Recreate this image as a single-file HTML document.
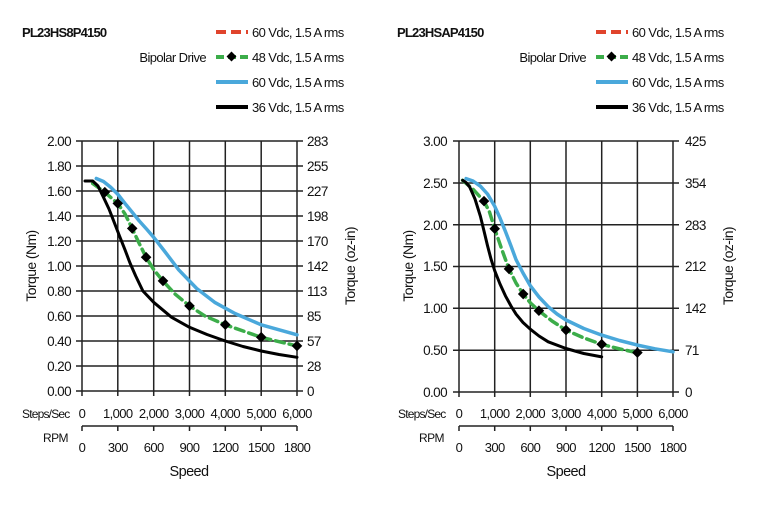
<!DOCTYPE html>
<html><head><meta charset="utf-8"><style>
body{margin:0;background:#fff}
text{font-family:"Liberation Sans",sans-serif;fill:#111;letter-spacing:-0.6px}
</style></head><body>
<svg width="762" height="500" viewBox="0 0 762 500" xmlns="http://www.w3.org/2000/svg">
<rect width="762" height="500" fill="#fff"/>

<!-- LEFT CHART -->
<text x="22" y="37" font-size="13" font-weight="bold" style="letter-spacing:-0.8px">PL23HS8P4150</text>
<text x="206" y="62" font-size="13" text-anchor="end">Bipolar Drive</text>
<line x1="216" y1="32" x2="248" y2="32" stroke="#e0442c" stroke-width="4" stroke-dasharray="10,5"/>
<line x1="216" y1="57" x2="248" y2="57" stroke="#3cad4a" stroke-width="4" stroke-dasharray="8,4"/>
<rect x="228" y="53" width="7" height="7" transform="rotate(45 231.5 56.5)" fill="#000"/>
<line x1="216" y1="82" x2="248" y2="82" stroke="#4aa8db" stroke-width="4"/>
<line x1="216" y1="107" x2="248" y2="107" stroke="#000" stroke-width="4"/>
<g font-size="13"><text x="252" y="37">60 Vdc, 1.5 A rms</text><text x="252" y="62">48 Vdc, 1.5 A rms</text><text x="252" y="87">60 Vdc, 1.5 A rms</text><text x="252" y="112">36 Vdc, 1.5 A rms</text></g>

<g stroke="#222" stroke-width="1.5">
<line x1="76" y1="141" x2="303" y2="141"/><line x1="76" y1="166" x2="303" y2="166"/><line x1="76" y1="191" x2="303" y2="191"/><line x1="76" y1="216" x2="303" y2="216"/><line x1="76" y1="241" x2="303" y2="241"/><line x1="76" y1="266" x2="303" y2="266"/><line x1="76" y1="291" x2="303" y2="291"/><line x1="76" y1="316" x2="303" y2="316"/><line x1="76" y1="341" x2="303" y2="341"/><line x1="76" y1="366" x2="303" y2="366"/><line x1="76" y1="391" x2="303" y2="391"/>
<line x1="82" y1="141" x2="82" y2="396"/><line x1="117.8" y1="141" x2="117.8" y2="396"/><line x1="153.7" y1="141" x2="153.7" y2="396"/><line x1="189.5" y1="141" x2="189.5" y2="396"/><line x1="225.3" y1="141" x2="225.3" y2="396"/><line x1="261.2" y1="141" x2="261.2" y2="396"/><line x1="297" y1="141" x2="297" y2="396"/>
<line x1="82" y1="426" x2="297" y2="426"/>
<line x1="82" y1="426" x2="82" y2="431"/><line x1="117.8" y1="426" x2="117.8" y2="431"/><line x1="153.7" y1="426" x2="153.7" y2="431"/><line x1="189.5" y1="426" x2="189.5" y2="431"/><line x1="225.3" y1="426" x2="225.3" y2="431"/><line x1="261.2" y1="426" x2="261.2" y2="431"/><line x1="297" y1="426" x2="297" y2="431"/>
</g>
<g font-size="13.5" text-anchor="end"><text x="71" y="146">2.00</text><text x="71" y="171">1.80</text><text x="71" y="196">1.60</text><text x="71" y="221">1.40</text><text x="71" y="246">1.20</text><text x="71" y="271">1.00</text><text x="71" y="296">0.80</text><text x="71" y="321">0.60</text><text x="71" y="346">0.40</text><text x="71" y="371">0.20</text><text x="71" y="396">0.00</text></g>
<g font-size="13.5"><text x="307" y="146">283</text><text x="307" y="171">255</text><text x="307" y="196">227</text><text x="307" y="221">198</text><text x="307" y="246">170</text><text x="307" y="271">142</text><text x="307" y="296">113</text><text x="307" y="321">85</text><text x="307" y="346">57</text><text x="307" y="371">28</text><text x="307" y="396">0</text></g>
<text font-size="14" transform="translate(36 266) rotate(-90)" text-anchor="middle">Torque (Nm)</text>
<text font-size="14" transform="translate(355 266) rotate(-90)" text-anchor="middle">Torque (oz-in)</text>
<text x="22" y="418" font-size="12" style="letter-spacing:-0.8px">Steps/Sec</text>
<text x="43" y="442" font-size="12">RPM</text>
<g font-size="13" text-anchor="middle"><text x="82" y="418">0</text><text x="117.8" y="418">1,000</text><text x="153.7" y="418">2,000</text><text x="189.5" y="418">3,000</text><text x="225.3" y="418">4,000</text><text x="261.2" y="418">5,000</text><text x="297" y="418">6,000</text>
<text x="82" y="452">0</text><text x="117.8" y="452">300</text><text x="153.7" y="452">600</text><text x="189.5" y="452">900</text><text x="225.3" y="452">1200</text><text x="261.2" y="452">1500</text><text x="297" y="452">1800</text></g>
<text x="189" y="476" font-size="14.5" text-anchor="middle">Speed</text>

<g fill="none" stroke-linejoin="round" stroke-linecap="round">
<polyline stroke="#4aa8db" stroke-width="3.5" points="96.3,178.5 103.5,181.5 110.7,187.3 118,194.5 125,203.5 132,212 139.3,221 146.5,229 153.7,237.3 164.4,251 178.7,269.8 196.7,288.5 214.6,302.3 235,313.5 261.2,324.8 297,334.8"/>
<polyline stroke="#3cad4a" stroke-width="3.5" stroke-dasharray="9,5" points="92.7,183.5 104.9,192.3 117.8,203.5 125,214 132.2,228.5 139,243 146.1,257.3 154,270 163,281 175,294 189.5,306 205,316 225.3,324.8 261.2,337.3 297,346"/>
<polyline stroke="#000" stroke-width="3" points="85,181 92.7,181 98,186 103.5,197.3 109,209 114.2,222.3 119.5,236 125,249.8 130,263 135.7,276 142.9,291 153.7,302.3 171.6,317.3 189.5,327.3 207,334.5 225.3,341 243,346.5 261.2,351 279,354.5 297,357.3"/>
</g>
<g fill="#000">
<rect x="101" y="188.5" width="7.5" height="7.5" transform="rotate(45 104.9 192.3)"/>
<rect x="114" y="199.7" width="7.5" height="7.5" transform="rotate(45 117.8 203.5)"/>
<rect x="128.4" y="224.7" width="7.5" height="7.5" transform="rotate(45 132.2 228.5)"/>
<rect x="142.3" y="253.5" width="7.5" height="7.5" transform="rotate(45 146.1 257.3)"/>
<rect x="159.2" y="277.2" width="7.5" height="7.5" transform="rotate(45 163 281)"/>
<rect x="185.7" y="302.2" width="7.5" height="7.5" transform="rotate(45 189.5 306)"/>
<rect x="221.5" y="321" width="7.5" height="7.5" transform="rotate(45 225.3 324.8)"/>
<rect x="257.4" y="333.5" width="7.5" height="7.5" transform="rotate(45 261.2 337.3)"/>
<rect x="293.2" y="342.2" width="7.5" height="7.5" transform="rotate(45 297 346)"/>
</g>

<!-- RIGHT CHART -->
<text x="397" y="37" font-size="13" font-weight="bold" style="letter-spacing:-0.8px">PL23HSAP4150</text>
<text x="586" y="62" font-size="13" text-anchor="end">Bipolar Drive</text>
<line x1="596" y1="32" x2="628" y2="32" stroke="#e0442c" stroke-width="4" stroke-dasharray="10,5"/>
<line x1="596" y1="57" x2="628" y2="57" stroke="#3cad4a" stroke-width="4" stroke-dasharray="8,4"/>
<rect x="608" y="53" width="7" height="7" transform="rotate(45 611.5 56.5)" fill="#000"/>
<line x1="596" y1="82" x2="628" y2="82" stroke="#4aa8db" stroke-width="4"/>
<line x1="596" y1="107" x2="628" y2="107" stroke="#000" stroke-width="4"/>
<g font-size="13"><text x="632" y="37">60 Vdc, 1.5 A rms</text><text x="632" y="62">48 Vdc, 1.5 A rms</text><text x="632" y="87">60 Vdc, 1.5 A rms</text><text x="632" y="112">36 Vdc, 1.5 A rms</text></g>

<g stroke="#222" stroke-width="1.5">
<line x1="453" y1="141" x2="679" y2="141"/><line x1="453" y1="183" x2="679" y2="183"/><line x1="453" y1="224.7" x2="679" y2="224.7"/><line x1="453" y1="266.5" x2="679" y2="266.5"/><line x1="453" y1="308.3" x2="679" y2="308.3"/><line x1="453" y1="350.2" x2="679" y2="350.2"/><line x1="453" y1="392" x2="679" y2="392"/>
<line x1="459" y1="141" x2="459" y2="397"/><line x1="494.7" y1="141" x2="494.7" y2="397"/><line x1="530.3" y1="141" x2="530.3" y2="397"/><line x1="566" y1="141" x2="566" y2="397"/><line x1="601.7" y1="141" x2="601.7" y2="397"/><line x1="637.4" y1="141" x2="637.4" y2="397"/><line x1="673" y1="141" x2="673" y2="397"/>
<line x1="459" y1="426" x2="673" y2="426"/>
<line x1="459" y1="426" x2="459" y2="431"/><line x1="494.7" y1="426" x2="494.7" y2="431"/><line x1="530.3" y1="426" x2="530.3" y2="431"/><line x1="566" y1="426" x2="566" y2="431"/><line x1="601.7" y1="426" x2="601.7" y2="431"/><line x1="637.4" y1="426" x2="637.4" y2="431"/><line x1="673" y1="426" x2="673" y2="431"/>
</g>
<g font-size="13.5" text-anchor="end"><text x="447" y="146">3.00</text><text x="447" y="188">2.50</text><text x="447" y="230">2.00</text><text x="447" y="271">1.50</text><text x="447" y="313">1.00</text><text x="447" y="355">0.50</text><text x="447" y="397">0.00</text></g>
<g font-size="13.5"><text x="685" y="146">425</text><text x="685" y="188">354</text><text x="685" y="230">283</text><text x="685" y="271">212</text><text x="685" y="313">142</text><text x="685" y="355">71</text><text x="685" y="397">0</text></g>
<text font-size="14" transform="translate(413 266) rotate(-90)" text-anchor="middle">Torque (Nm)</text>
<text font-size="14" transform="translate(733 266) rotate(-90)" text-anchor="middle">Torque (oz-in)</text>
<text x="398" y="418" font-size="12" style="letter-spacing:-0.8px">Steps/Sec</text>
<text x="419" y="442" font-size="12">RPM</text>
<g font-size="13" text-anchor="middle"><text x="459" y="418">0</text><text x="494.7" y="418">1,000</text><text x="530.3" y="418">2,000</text><text x="566" y="418">3,000</text><text x="601.7" y="418">4,000</text><text x="637.4" y="418">5,000</text><text x="673" y="418">6,000</text>
<text x="459" y="452">0</text><text x="494.7" y="452">300</text><text x="530.3" y="452">600</text><text x="566" y="452">900</text><text x="601.7" y="452">1200</text><text x="637.4" y="452">1500</text><text x="673" y="452">1800</text></g>
<text x="566" y="476" font-size="14.5" text-anchor="middle">Speed</text>

<g fill="none" stroke-linejoin="round" stroke-linecap="round">
<polyline stroke="#4aa8db" stroke-width="3.5" points="466.1,178.6 473,181 480.4,186.2 487.5,194 494.7,206.3 500,218 505.4,231.4 511,246 516.1,259.8 523,273 530.3,285.7 539,297 548.2,306.7 557,314 566,320 583.8,328.5 601.7,335.1 619.5,340.5 637.4,345.1 655,348.8 673,351.8"/>
<polyline stroke="#3cad4a" stroke-width="3.5" stroke-dasharray="9,5" points="462.6,180.3 473.3,189.5 484,201.2 489.5,212 494.7,228.8 502,250 509,269 516,283 523.2,294.1 530.5,303 538.9,310.8 552,321 566,330.1 584,338 601.7,344.3 620,349 637.4,352.7"/>
<polyline stroke="#000" stroke-width="3" points="462.6,180.3 466,182.5 469.7,187 475,199 480.4,216.3 484,231 487.5,245.6 491,259 494.7,270.7 500,284 505.4,295.8 511,306 516.1,314.2 523,322.5 530.3,329.2 539,336 548.2,341.8 566,348.5 583.8,353.5 601.7,356.9"/>
</g>
<g fill="#000">
<rect x="480.2" y="197.4" width="7.5" height="7.5" transform="rotate(45 484 201.2)"/>
<rect x="490.9" y="225" width="7.5" height="7.5" transform="rotate(45 494.7 228.8)"/>
<rect x="505.2" y="265.2" width="7.5" height="7.5" transform="rotate(45 509 269)"/>
<rect x="519.4" y="290.3" width="7.5" height="7.5" transform="rotate(45 523.2 294.1)"/>
<rect x="535.1" y="307" width="7.5" height="7.5" transform="rotate(45 538.9 310.8)"/>
<rect x="562.2" y="326.3" width="7.5" height="7.5" transform="rotate(45 566 330.1)"/>
<rect x="597.9" y="340.5" width="7.5" height="7.5" transform="rotate(45 601.7 344.3)"/>
<rect x="633.6" y="348.9" width="7.5" height="7.5" transform="rotate(45 637.4 352.7)"/>
</g>
</svg>
</body></html>
